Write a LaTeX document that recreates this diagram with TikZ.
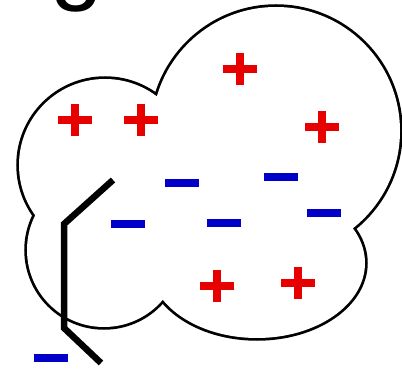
\documentclass[tikz,border=0pt]{standalone}
\usepackage{fontspec}
\setmainfont{Liberation Sans}
\definecolor{chargered}{RGB}{230,0,0}
\definecolor{chargeblue}{RGB}{0,0,200}

\begin{document}
\begin{tikzpicture}[x=1pt,y=-1pt,
  poscharge/.style={draw=chargered, line width=8pt},
  negcharge/.style={draw=chargeblue, line width=8pt},
  cloudline/.style={draw=black, line width=5.5pt},
  probeline/.style={draw=black, line width=6.5pt}]
\useasboundingbox (0,0) rectangle (402,374);
\clip (0,0) rectangle (402,374);
% text cut off by the top edge
\node (title) [anchor=base west, inner sep=0pt, font=\fontsize{95}{95}\selectfont] at (50,-7) {g};
% cloud: outline of the union of four lumps
\draw [cloudline] (105,165) circle [radius=86] (276,131) circle [radius=124]
  (104,250) circle [radius=77] (257,263) ellipse [x radius=108, y radius=75];
\fill [white] (105,165) circle [radius=86] (276,131) circle [radius=124]
  (104,250) circle [radius=77] (257,263) ellipse [x radius=108, y radius=75];
\fill [white] (205,215) circle [radius=55];
% positive charges
\draw [poscharge] (75,120) +(-17,0) -- +(17,0) +(0,-16) -- +(0,16);
\draw [poscharge] (141,120) +(-17,0) -- +(17,0) +(0,-16) -- +(0,16);
\draw [poscharge] (240,69) +(-17,0) -- +(17,0) +(0,-16) -- +(0,16);
\draw [poscharge] (322,127) +(-17,0) -- +(17,0) +(0,-16) -- +(0,16);
\draw [poscharge] (217,286) +(-17,0) -- +(17,0) +(0,-16) -- +(0,16);
\draw [poscharge] (298,283) +(-17,0) -- +(17,0) +(0,-16) -- +(0,16);
% negative charges
\draw [negcharge] (182,183) +(-17,0) -- +(17,0);
\draw [negcharge] (281,177) +(-17,0) -- +(17,0);
\draw [negcharge] (224,223) +(-17,0) -- +(17,0);
\draw [negcharge] (324,213) +(-17,0) -- +(17,0);
\draw [negcharge] (128,224) +(-17,0) -- +(17,0);
\draw [negcharge] (51,358) +(-17,0) -- +(17,0);
% probe
\draw [probeline] (113,180) -- (64,224) -- (64,328) -- (101,363);
\end{tikzpicture}
\end{document}
